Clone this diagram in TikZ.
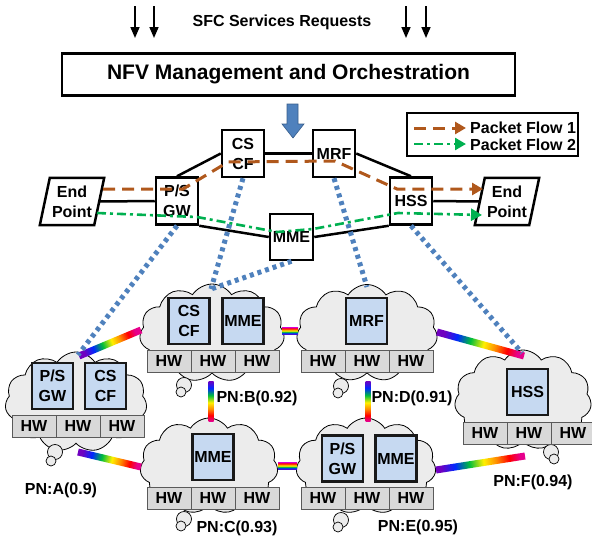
\documentclass[tikz,border=0pt]{standalone}
\usepackage{fontspec}
\setmainfont{Liberation Sans}
\usetikzlibrary{shapes.symbols,arrows.meta,calc}
\definecolor{flowbrown}{RGB}{176,88,28}
\definecolor{flowgreen}{RGB}{0,176,80}
\definecolor{dotblue}{RGB}{79,129,189}
\definecolor{arrowedge}{RGB}{56,93,138}
\definecolor{vnfblue}{RGB}{198,217,241}
\definecolor{cloudgray}{RGB}{236,236,236}
\definecolor{hwgray}{RGB}{217,217,217}
\definecolor{hwedge}{RGB}{90,90,90}
\definecolor{rbviolet}{RGB}{112,0,192}
\definecolor{rbblue}{RGB}{0,40,255}
\definecolor{rbgreen}{RGB}{0,190,60}
\definecolor{rbyellow}{RGB}{255,240,0}
\definecolor{rborange}{RGB}{255,140,0}
\definecolor{rbred}{RGB}{255,0,0}
\definecolor{rbmagenta}{RGB}{230,0,140}
\pgfdeclarehorizontalshading{rainbowshade}{100bp}{color(0bp)=(rbviolet); color(25bp)=(rbviolet); color(34bp)=(rbblue); color(43bp)=(rbgreen); color(52bp)=(rbyellow); color(60bp)=(rborange); color(68bp)=(rbred); color(75bp)=(rbmagenta); color(100bp)=(rbmagenta)}

\tikzset{
  lbl/.style={font=\fontsize{16}{20}\selectfont\bfseries, inner sep=0pt},
  topbox/.style={draw, line width=2.5pt, fill=white, minimum width=42pt, minimum height=47pt, inner sep=0pt, align=center, font=\fontsize{16}{20}\selectfont\bfseries},
  vnf/.style={draw=black!90, line width=2.2pt, fill=vnfblue, minimum width=41pt, minimum height=46pt, inner sep=0pt, align=center, font=\fontsize{16}{20}\selectfont\bfseries},
  hw/.style={draw=hwedge, line width=0.8pt, fill=hwgray, minimum width=44pt, minimum height=22pt, inner sep=0pt, outer sep=0pt, font=\fontsize{16}{20}\selectfont\bfseries},
  cloudnode/.style={cloud, cloud puffs=11, cloud puff arc=115, draw=black, line width=0.8pt, fill=cloudgray, inner sep=0pt},
  bubble/.style={draw=black, line width=0.7pt, fill=cloudgray},
  solidlink/.style={line width=2.5pt},
  dotlink/.style={dotblue, line width=5pt, dash pattern=on 4pt off 4pt},
  flowone/.style={flowbrown, line width=3pt, dash pattern=on 12pt off 7pt, -{Triangle[length=11pt,width=12pt]}},
  flowtwo/.style={flowgreen, line width=2.6pt, dash pattern=on 9pt off 4pt on 3pt off 4pt, -{Triangle[length=11pt,width=12pt]}},
  rbband/.style={shade, shading=rainbowshade, inner sep=0pt, outer sep=0pt, draw=none, rectangle},
  downarrow/.style={line width=1.6pt, -{Triangle[length=11pt,width=9pt]}},
}
\newcommand\rbalong[3][7]{%
  \path let \p1=(#2), \p2=(#3), \n1={atan2(\y2-\y1,\x2-\x1)}, \n2={veclen(\x2-\x1,\y2-\y1)} in
    node[rbband, rotate=\n1, shading angle=\n1, minimum width=\n2, minimum height=#1pt] at ($(#2)!0.5!(#3)$) {};}
\newcommand\rbacross[3][7]{%
  \path let \p1=(#2), \p2=(#3), \n1={atan2(\y2-\y1,\x2-\x1)}, \n2={veclen(\x2-\x1,\y2-\y1)} in
    node[rbband, rotate=\n1, shading angle=\n1+90, minimum width=\n2, minimum height=#1pt] at ($(#2)!0.5!(#3)$) {};}
\newcommand\hwrow[3]{%
  \node[hw, anchor=west] (#1a) at (#2,#3) {HW};
  \node[hw, anchor=west] (#1b) at (#1a.east) {HW};
  \node[hw, anchor=west] (#1c) at (#1b.east) {HW};}

\begin{document}
\begin{tikzpicture}[x=1pt,y=-1pt]
\useasboundingbox (0,0) rectangle (592,541);

% ---------- clouds ----------
\node[cloudnode, minimum width=142pt, minimum height=100pt, aspect=1.42] (cA) at (76,402) {};
\node[cloudnode, minimum width=145pt, minimum height=98pt, aspect=1.48] (cB) at (212,333) {};
\node[cloudnode, minimum width=141pt, minimum height=97pt, aspect=1.45] (cD) at (367,333) {};
\node[cloudnode, minimum width=138pt, minimum height=96pt, aspect=1.44] (cC) at (209,466) {};
\node[cloudnode, minimum width=140pt, minimum height=96pt, aspect=1.46] (cE) at (366,466) {};
\node[cloudnode, minimum width=137pt, minimum height=100pt, aspect=1.37] (cF) at (523,400) {};

% thought bubbles
\draw[bubble] (55,452) circle (7.5pt); \draw[bubble] (51,461) circle (5pt);
\draw[bubble] (184,385) circle (7.5pt); \draw[bubble] (181,392) circle (5pt);
\draw[bubble] (341,386) circle (7.5pt); \draw[bubble] (338,393) circle (5pt);
\draw[bubble] (184,519) circle (7.5pt); \draw[bubble] (181,526) circle (5pt);
\draw[bubble] (341,520) circle (7.5pt); \draw[bubble] (338,527) circle (5pt);
\draw[bubble] (551,452) circle (7.5pt); \draw[bubble] (554,459) circle (5pt);

% HW rows
\hwrow{hA}{12}{426}
\hwrow{hB}{147}{361}
\hwrow{hD}{301}{361}
\hwrow{hC}{147}{498}
\hwrow{hE}{301}{498}
\hwrow{hF}{463}{433}

% VNF boxes
\node[vnf] (psgwA) at (52.5,386) {P/S\\GW};
\node[vnf] (cscfA) at (105.5,386) {CS\\CF};
\node[vnf] (cscfB) at (189,321) {CS\\CF};
\node[vnf] (mmeB) at (243,321) {MME};
\node[vnf] (mrfD) at (366.5,321) {MRF};
\node[vnf] (hssF) at (527.5,392) {HSS};
\node[vnf] (mmeC) at (213,457) {MME};
\node[vnf] (psgwE) at (342.5,458.5) {P/S\\GW};
\node[vnf] (mmeE) at (396,458.5) {MME};

% PN labels
\node[lbl] (pnA) at (61,490) {PN:A(0.9)};
\node[lbl] (pnB) at (257,398) {PN:B(0.92)};
\node[lbl] (pnD) at (412,398) {PN:D(0.91)};
\node[lbl] (pnF) at (533,482) {PN:F(0.94)};
\node[lbl] (pnC) at (237,528) {PN:C(0.93)};
\node[lbl] (pnE) at (418,527) {PN:E(0.95)};

% rainbow links
\coordinate (lAB1) at (79,356); \coordinate (lAB2) at (141,330);
\coordinate (lBC1) at (211,381); \coordinate (lBC2) at (211,421);
\coordinate (lBD1) at (282,331); \coordinate (lBD2) at (298,331);
\coordinate (lDE1) at (368,381); \coordinate (lDE2) at (368,421);
\coordinate (lDF1) at (437,332); \coordinate (lDF2) at (524,356);
\coordinate (lCE1) at (278,466); \coordinate (lCE2) at (297,466);
\coordinate (lEF1) at (436,470); \coordinate (lEF2) at (525,456);
\coordinate (lAC1) at (78,452); \coordinate (lAC2) at (141,467);
\rbalong{lAB1}{lAB2}
\rbalong[5]{lBC1}{lBC2}
\rbacross{lBD1}{lBD2}
\rbalong[5]{lDE1}{lDE2}
\rbalong{lDF1}{lDF2}
\rbacross{lCE1}{lCE2}
\rbalong{lEF1}{lEF2}
\rbalong{lAC1}{lAC2}

% ---------- top ----------
\coordinate (da1) at (135,6); \coordinate (db1) at (135,38);
\coordinate (da2) at (154,6); \coordinate (db2) at (154,38);
\coordinate (da3) at (406,6); \coordinate (db3) at (406,38);
\coordinate (da4) at (426,6); \coordinate (db4) at (426,38);
\draw[downarrow] (da1) -- (db1);
\draw[downarrow] (da2) -- (db2);
\draw[downarrow] (da3) -- (db3);
\draw[downarrow] (da4) -- (db4);
\node[font=\fontsize{16}{19}\selectfont\bfseries, inner sep=0pt] (sfc) at (282,22) {SFC Services Requests};
\node[draw, line width=2.5pt, minimum width=453pt, minimum height=42pt, inner sep=0pt, font=\fontsize{21}{24}\selectfont\bfseries] (nfv) at (288.5,74.5) {NFV Management and Orchestration};

% block arrow
\filldraw[fill=dotblue, draw=arrowedge, line width=0.6pt] (287,104) -- (298,104) -- (298,124) -- (304,124) -- (293,138) -- (282,124) -- (287,124) -- cycle;

% top boxes
\node[topbox] (cscf) at (243,153.5) {CS\\CF};
\node[topbox] (mrf) at (334,153.5) {MRF};
\node[topbox] (psgw) at (177,201) {P/S\\GW};
\node[topbox] (hss) at (411,201) {HSS};
\node[topbox, minimum width=43pt, minimum height=46pt] (mme) at (291.5,237) {MME};
\node[lbl, minimum width=64pt, minimum height=47pt, align=center] (ep1) at (72,201.5) {End\\Point};
\node[lbl, minimum width=64pt, minimum height=47pt, align=center] (ep2) at (507,201.5) {End\\Point};
\draw[line width=2.5pt, line join=miter] (ep1.south west) -- ($(ep1.south east)+(-10,0)$) -- (ep1.north east) -- ($(ep1.north west)+(10,0)$) -- cycle;
\draw[line width=2.5pt, line join=miter] (ep2.south west) -- ($(ep2.south east)+(-10,0)$) -- (ep2.north east) -- ($(ep2.north west)+(10,0)$) -- cycle;

% solid connectors
\draw[solidlink] (cscf) -- (mrf);
\draw[solidlink] (cscf.west) -- (psgw.north);
\draw[solidlink] (mrf.east) -- (hss.north);
\draw[solidlink] ($(ep1.east)+(-5,0)$) -- (psgw.west);
\draw[solidlink] (hss.east) -- ($(ep2.west)+(5,0)$);
\draw[solidlink] (psgw.south east) -- (mme.west);
\draw[solidlink] (mme.east) -- (hss.south west);

% dotted mapping lines
\coordinate (tA) at (78,355);
\coordinate (tB) at (211,289);
\coordinate (tD) at (367,287);
\coordinate (tF) at (522,353);
\draw[dotlink] (psgw.south) -- (tA);
\draw[dotlink] (cscf.south) -- (tB);
\draw[dotlink] (mme.south) -- (tB);
\draw[dotlink] (mrf.south) -- (tD);
\draw[dotlink] (hss.south) -- (tF);

% packet flows
\coordinate (f1a) at (103,189); \coordinate (f1b) at (183,189); \coordinate (f1c) at (228,162);
\coordinate (f1d) at (335,161); \coordinate (f1e) at (397,189); \coordinate (f1f) at (483,189);
\draw[flowone] (f1a) -- (f1b) -- (f1c) -- (f1d) -- (f1e) -- (f1f);
\coordinate (f2a) at (97,213); \coordinate (f2b) at (197,217); \coordinate (f2c) at (277,232);
\coordinate (f2d) at (313,229); \coordinate (f2e) at (398,213); \coordinate (f2f) at (482,215);
\draw[flowtwo] (f2a) -- (f2b) -- (f2c) -- (f2d) -- (f2e) -- (f2f);

% legend
\node[draw, line width=2.5pt, minimum width=171pt, minimum height=43pt, inner sep=0pt] (legend) at (492.5,134.5) {};
\coordinate (g1a) at (414,128); \coordinate (g1b) at (466,128);
\coordinate (g2a) at (414,144); \coordinate (g2b) at (466,144);
\draw[flowone] (g1a) -- (g1b);
\draw[flowtwo] (g2a) -- (g2b);
\node[lbl, anchor=west] (leg1) at (470,128) {Packet Flow 1};
\node[lbl, anchor=west] (leg2) at (470,145) {Packet Flow 2};
\end{tikzpicture}
\end{document}
